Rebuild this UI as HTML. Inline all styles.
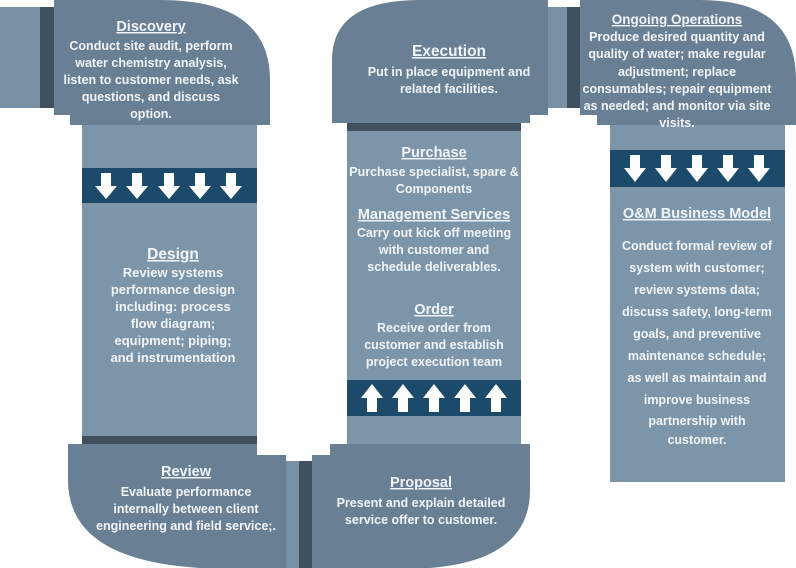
<!DOCTYPE html>
<html><head><meta charset="utf-8"><style>
html,body{margin:0;padding:0;background:#fff;}
svg{display:block;}
text{font-family:"Liberation Sans",Arial,sans-serif;font-weight:bold;fill:#f2f5f8;text-anchor:middle;font-size:12.5px;}
.t{font-size:14.5px;text-decoration:underline;}
.d{font-size:13px;}
</style></head><body>
<svg width="796" height="568" viewBox="0 0 796 568" xmlns="http://www.w3.org/2000/svg">
<rect x="82" y="120" width="175" height="320" fill="#7c95a8"/>
<rect x="347" y="120" width="174" height="330" fill="#7c95a8"/>
<rect x="610" y="120" width="175" height="362" fill="#7c95a8"/>
<rect x="0" y="7" width="40" height="101" fill="#7891a5"/>
<rect x="40" y="7" width="14" height="101" fill="#3f5060"/>
<path d="M54 0 H160 Q270 0 270 80 V125 H70 V115 H54 Z" fill="#687f94"/>
<rect x="548" y="7" width="20" height="101" fill="#7891a5"/>
<rect x="567" y="7" width="13" height="101" fill="#3f5060"/>
<path d="M332 60 Q332 0 420 0 H548 V115 H530 V123 H332 Z" fill="#687f94"/>
<rect x="347" y="123" width="174" height="8" fill="#3f5060"/>
<path d="M580 0 H700 Q796 0 796 80 V125 H597 V115 H580 Z" fill="#687f94"/>
<rect x="82" y="436" width="175" height="8" fill="#3f5060"/>
<path d="M68 444 H257 V455 H286 V568 H200 Q68 560 68 480 Z" fill="#687f94"/>
<rect x="286" y="461" width="13" height="107" fill="#7891a5"/>
<rect x="299" y="461" width="13" height="107" fill="#3f5060"/>
<path d="M312 455 H330 V444 H530 V490 Q530 560 430 568 H312 Z" fill="#687f94"/>
<rect x="82" y="168" width="175" height="35" fill="#1b4a6b"/>
<rect x="610" y="150" width="175" height="37" fill="#1b4a6b"/>
<rect x="347" y="380" width="174" height="36" fill="#1b4a6b"/>
<g fill="#fff">
<path d="M-5 173 H5 V186 H11 L0 199 L-11 186 H-5 Z" transform="translate(106,0)"/>
<path d="M-5 173 H5 V186 H11 L0 199 L-11 186 H-5 Z" transform="translate(137,0)"/>
<path d="M-5 173 H5 V186 H11 L0 199 L-11 186 H-5 Z" transform="translate(169,0)"/>
<path d="M-5 173 H5 V186 H11 L0 199 L-11 186 H-5 Z" transform="translate(200,0)"/>
<path d="M-5 173 H5 V186 H11 L0 199 L-11 186 H-5 Z" transform="translate(231,0)"/>
<path d="M-5 155 H5 V168 H11 L0 182 L-11 168 H-5 Z" transform="translate(635,0)"/>
<path d="M-5 155 H5 V168 H11 L0 182 L-11 168 H-5 Z" transform="translate(666,0)"/>
<path d="M-5 155 H5 V168 H11 L0 182 L-11 168 H-5 Z" transform="translate(697,0)"/>
<path d="M-5 155 H5 V168 H11 L0 182 L-11 168 H-5 Z" transform="translate(728,0)"/>
<path d="M-5 155 H5 V168 H11 L0 182 L-11 168 H-5 Z" transform="translate(759,0)"/>
<path d="M-5 412 H5 V398 H11 L0 384 L-11 398 H-5 Z" transform="translate(372,0)"/>
<path d="M-5 412 H5 V398 H11 L0 384 L-11 398 H-5 Z" transform="translate(403,0)"/>
<path d="M-5 412 H5 V398 H11 L0 384 L-11 398 H-5 Z" transform="translate(434,0)"/>
<path d="M-5 412 H5 V398 H11 L0 384 L-11 398 H-5 Z" transform="translate(465,0)"/>
<path d="M-5 412 H5 V398 H11 L0 384 L-11 398 H-5 Z" transform="translate(496,0)"/>
</g>
<text class="t" x="151" y="31">Discovery</text>
<text x="151" y="50">Conduct site audit, perform</text>
<text x="151" y="67">water chemistry analysis,</text>
<text x="151" y="84">listen to customer needs, ask</text>
<text x="151" y="101">questions, and discuss</text>
<text x="151" y="118">option.</text>

<text class="t" x="173" y="259" style="font-size:15.5px">Design</text>
<text class="d" x="173" y="277">Review systems</text>
<text class="d" x="173" y="294">performance design</text>
<text class="d" x="173" y="311">including: process</text>
<text class="d" x="173" y="328">flow diagram;</text>
<text class="d" x="173" y="345">equipment; piping;</text>
<text class="d" x="173" y="362">and instrumentation</text>

<text class="t" x="186" y="476">Review</text>
<text x="186" y="496">Evaluate performance</text>
<text x="186" y="513">internally between client</text>
<text x="186" y="530">engineering and field service;.</text>

<text class="t" x="421" y="487">Proposal</text>
<text x="421" y="507">Present and explain detailed</text>
<text x="421" y="524">service offer to customer.</text>

<text class="t" x="449" y="56" style="font-size:15.5px">Execution</text>
<text x="449" y="76">Put in place equipment and</text>
<text x="449" y="93">related facilities.</text>

<text class="t" x="434" y="157">Purchase</text>
<text x="434" y="176">Purchase specialist, spare &amp;</text>
<text x="434" y="193">Components</text>

<text class="t" x="434" y="219">Management  Services</text>
<text x="434" y="237">Carry out kick off meeting</text>
<text x="434" y="254">with customer and</text>
<text x="434" y="271">schedule deliverables.</text>

<text class="t" x="434" y="314">Order</text>
<text x="434" y="332">Receive order from</text>
<text x="434" y="349">customer and establish</text>
<text x="434" y="366">project execution team</text>

<text class="t" x="677" y="24" style="font-size:13.5px">Ongoing Operations</text>
<text x="677" y="41">Produce desired quantity and</text>
<text x="677" y="58">quality of water; make regular</text>
<text x="677" y="76">adjustment; replace</text>
<text x="677" y="93">consumables; repair equipment</text>
<text x="677" y="110">as needed; and monitor via site</text>
<text x="677" y="127">visits.</text>

<text class="t" x="697" y="218">O&amp;M Business Model</text>
<text x="697" y="250">Conduct formal review of</text>
<text x="697" y="272">system with customer;</text>
<text x="697" y="294">review systems data;</text>
<text x="697" y="316">discuss safety, long-term</text>
<text x="697" y="338">goals, and preventive</text>
<text x="697" y="360">maintenance schedule;</text>
<text x="697" y="382">as well as maintain and</text>
<text x="697" y="404">improve business</text>
<text x="697" y="425">partnership with</text>
<text x="697" y="444">customer.</text>
</svg>
</body></html>
